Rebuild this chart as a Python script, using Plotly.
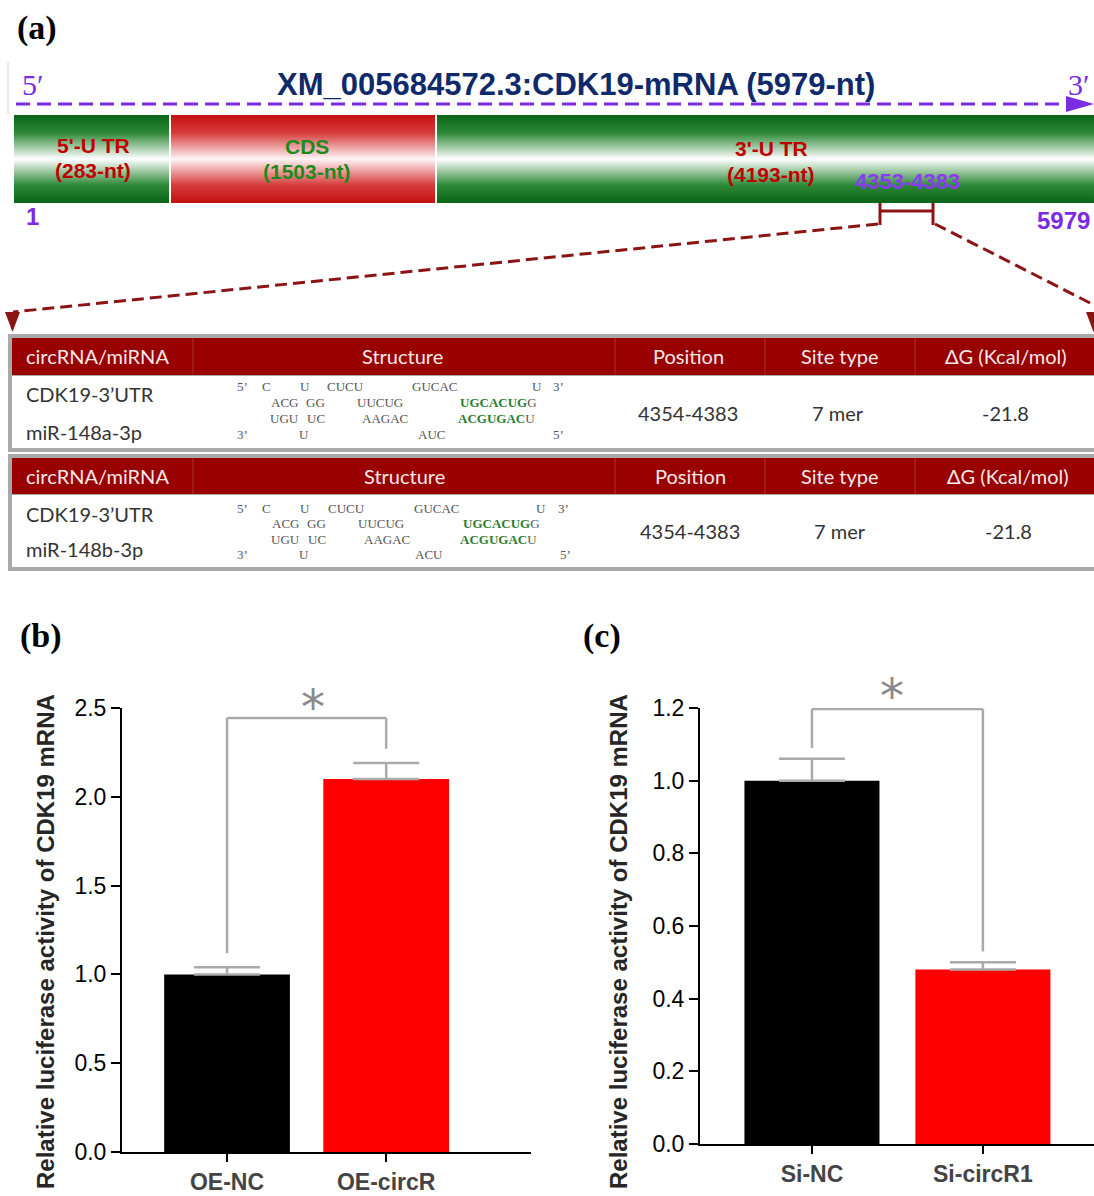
import plotly.graph_objects as go

# ------------------------------------------------------------------ data
transcript_id = "XM_005684572.3:CDK19-mRNA"
total_nt = 5979
segment_names = ["5'-U TR", "CDS", "3'-U TR"]
segment_lengths = [283, 1503, 4193]
site_range = [4353, 4383]

table_headers = ["circRNA/miRNA", "Structure", "Position", "Site type", "ΔG (Kcal/mol)"]
target_name = "CDK19-3’UTR"
mirna_names = ["miR-148a-3p", "miR-148b-3p"]
site_positions = ["4354-4383", "4354-4383"]
site_types = ["7 mer", "7 mer"]
delta_g = [-21.8, -21.8]

duplex_148a = [
    ["5’", "C", "U", "CUCU", "GUCAC", "U", "3’"],
    ["ACG", "GG", "UUCUG", "UGCACUGG"],
    ["UGU", "UC", "AAGAC", "ACGUGACU"],
    ["3’", "U", "AUC", "5’"],
]
duplex_148b = [
    ["5’", "C", "U", "CUCU", "GUCAC", "U", "3’"],
    ["ACG", "GG", "UUCUG", "UGCACUGG"],
    ["UGU", "UC", "AAGAC", "ACGUGACU"],
    ["3’", "U", "ACU", "5’"],
]

b_groups = ["OE-NC", "OE-circR"]
b_means = [1.0, 2.1]
b_errors = [0.04, 0.09]

c_groups = ["Si-NC", "Si-circR1"]
c_means = [1.0, 0.48]
c_errors = [0.06, 0.02]

y_title = "Relative luciferase activity of CDK19 mRNA"

# ------------------------------------------------------------------ style / layout
W, H = 1094, 1196
PURPLE = "#7b2be2"
NAVY = "#0f2a6b"
DKRED = "#8b1414"
HEAD_RED = "#990000"
GREEN_TXT = "#1e8a1e"
RED_TXT = "#c00000"
GREY = "#aaaaaa"
SANS = "Arial, Liberation Sans, sans-serif"
SERIF = "Liberation Serif, Times New Roman, serif"
CAL = "Lato, Open Sans, sans-serif"

fig = go.Figure()
shapes = []
annots = []


def ann(x, y, text, size, color, family=SANS, xanchor="center", yanchor="middle", angle=0):
    annots.append(dict(x=x, y=y, xref="x3", yref="y3", text=text, showarrow=False,
                       font=dict(size=size, color=color, family=family),
                       xanchor=xanchor, yanchor=yanchor, textangle=angle))


def rect(x0, y0, x1, y1, fill, layer="below"):
    shapes.append(dict(type="rect", xref="x3", yref="y3", x0=x0, y0=y0, x1=x1, y1=y1,
                       fillcolor=fill, line=dict(width=0), layer=layer))


def seg(x0, y0, x1, y1, color, width=2, dash="solid", layer="above", xref="x3", yref="y3"):
    shapes.append(dict(type="line", xref=xref, yref=yref, x0=x0, y0=y0, x1=x1, y1=y1,
                       line=dict(color=color, width=width, dash=dash), layer=layer))


def tri(path, color):
    shapes.append(dict(type="path", xref="x3", yref="y3", path=path, fillcolor=color,
                       line=dict(width=0), layer="above"))


# ---------------- panel (a): gene schematic
ann(15, 28, "<b>(a)</b>", 34, "black", SERIF, xanchor="left")
seg(8, 62, 8, 114, "#d0d0d0", 1)
ann(33, 84, "5′", 30, PURPLE, SERIF)
ann(1079, 84, "3′", 30, PURPLE, SERIF)
ann(576, 84, "<b>%s (%d-nt)</b>" % (transcript_id, total_nt), 31, NAVY)
seg(16, 104, 1070, 104, PURPLE, 3, dash="14px,7px")
tri("M 1066 96 L 1094 104 L 1066 112 Z", PURPLE)

seg_px = [(14, 169), (171, 435), (437, 1100)]
GREEN_CS = [[0, "#0a6416"], [0.2, "#2c8836"], [0.5, "#ffffff"], [0.8, "#2c8836"], [1, "#0a6416"]]
RED_CS = [[0, "#c41010"], [0.2, "#d63a3a"], [0.5, "#fff4f4"], [0.8, "#d63a3a"], [1, "#c41010"]]
seg_scales = [GREEN_CS, RED_CS, GREEN_CS]
BAR_T, BAR_B = 115, 203
for (x0, x1), cs in zip(seg_px, seg_scales):
    fig.add_trace(go.Scatter(x=[x0, x1, x1, x0, x0], y=[BAR_T, BAR_T, BAR_B, BAR_B, BAR_T],
                             fill="toself", mode="lines", line=dict(width=0),
                             fillgradient=dict(type="vertical", colorscale=cs),
                             xaxis="x3", yaxis="y3", hoverinfo="skip", showlegend=False))

seg_label_pos = [(93, 145, 170), (307, 146, 171), (771, 148, 174)]
seg_colors = [RED_TXT, GREEN_TXT, RED_TXT]
for name, n, (cx, y1, y2), col in zip(segment_names, segment_lengths, seg_label_pos, seg_colors):
    ann(cx, y1, "<b>%s</b>" % name, 21, col)
    ann(cx, y2, "<b>(%d-nt)</b>" % n, 21, col)

ann(907, 181, "<b>%d-%d</b>" % tuple(site_range), 22, "#8a3cf0")
ann(32, 216, "<b>1</b>", 24, PURPLE)
ann(1063, 220, "<b>%d</b>" % total_nt, 24, PURPLE)

# site bracket and zoom lines
seg(880, 211, 933, 211, DKRED, 3)
seg(880, 203, 880, 225, DKRED, 3)
seg(933, 203, 933, 225, DKRED, 3)
seg(878, 224, 13, 312, DKRED, 3, dash="12px,6px")
seg(935, 224, 1094, 305, DKRED, 3, dash="12px,6px")
tri("M 5 312 L 20 312 L 12.5 332 Z", DKRED)
tri("M 1086 312 L 1101 312 L 1093.5 332 Z", DKRED)

# ---------------- tables
tables = [
    dict(top=334, head=(338, 375), body=(376, 448), bottom=452, head_y=356, val_y=413,
         row_y=(394, 432), line_y=[386, 402, 418, 434],
         head_x=[24, 402, 688, 840, 1006], val_x=[688, 838, 1005],
         tok_x=[[242, 266, 305, 345, 435, 537, 558], [284, 315, 380, 498],
                [284, 316, 385, 496], [242, 304, 431, 558]],
         duplex=duplex_148a),
    dict(top=454, head=(458, 494), body=(495, 567), bottom=571, head_y=476, val_y=531,
         row_y=(514, 549), line_y=[508, 523, 539, 554],
         head_x=[24, 404, 690, 840, 1008], val_x=[690, 840, 1008],
         tok_x=[[242, 266, 305, 346, 437, 541, 563], [285, 316, 381, 501],
                [285, 317, 387, 498], [242, 304, 429, 565]],
         duplex=duplex_148b),
]
for i, t in enumerate(tables):
    rect(8, t["top"], 1100, t["bottom"], "#a9a9a9")
    rect(12, t["head"][0], 1100, t["head"][1], HEAD_RED)
    rect(12, t["body"][0], 1100, t["body"][1], "#ffffff")
    for sx in [193, 615, 765, 915]:
        seg(sx, t["head"][0], sx, t["head"][1], "#a83030", 1, layer="below")
    for j, (hdr, hx) in enumerate(zip(table_headers, t["head_x"])):
        ann(hx, t["head_y"], hdr, 20, "#f6e9e9", CAL, xanchor="left" if j == 0 else "center")
    ann(24, t["row_y"][0], target_name, 20, "#333333", CAL, xanchor="left")
    ann(24, t["row_y"][1], mirna_names[i], 20, "#333333", CAL, xanchor="left")
    ann(t["val_x"][0], t["val_y"], site_positions[i], 20, "#333333", CAL)
    ann(t["val_x"][1], t["val_y"], site_types[i], 20, "#333333", CAL)
    ann(t["val_x"][2], t["val_y"], "%.1f" % delta_g[i], 20, "#333333", CAL)
    for li, (toks, xs) in enumerate(zip(t["duplex"], t["tok_x"])):
        for tok, tx in zip(toks, xs):
            if len(tok) == 8:
                txt = "<b><span style='color:#2e7d32'>%s</span></b>%s" % (tok[:7], tok[7])
            else:
                txt = tok
            ann(tx, t["line_y"][li], txt, 13, "#555555", SERIF)

# ---------------- panels (b) and (c)
ann(18, 636, "<b>(b)</b>", 34, "black", SERIF, xanchor="left")
ann(581, 636, "<b>(c)</b>", 34, "black", SERIF, xanchor="left")
ann(45, 942, "<b>%s</b>" % y_title, 24, "#262626", angle=-90)
ann(618, 942, "<b>%s</b>" % y_title, 24, "#262626", angle=-90)
ann(313, 707, "*", 48, "#8a8a8a", "DejaVu Sans")
ann(892, 696, "*", 48, "#8a8a8a", "DejaVu Sans")

bar_colors = ["#000000", "#ff0000"]
for xa, ya, groups, means, errs in [("x", "y", b_groups, b_means, b_errors),
                                     ("x2", "y2", c_groups, c_means, c_errors)]:
    fig.add_trace(go.Bar(x=groups, y=means, width=0.79, xaxis=xa, yaxis=ya,
                         marker=dict(color=bar_colors, line=dict(width=0)),
                         error_y=dict(type="data", symmetric=False, array=errs,
                                      arrayminus=[0] * len(errs), color=GREY,
                                      thickness=2.5, width=33),
                         showlegend=False, hoverinfo="skip"))

# significance brackets
for xr, yr, left_end, right_end, top in [("x", "y", 1.12, 2.27, 2.444),
                                         ("x2", "y2", 1.09, 0.53, 1.197)]:
    seg(0, left_end, 0, top, GREY, 2.5, xref=xr, yref=yr)
    seg(0, top, 1, top, GREY, 2.5, xref=xr, yref=yr)
    seg(1, top, 1, right_end, GREY, 2.5, xref=xr, yref=yr)

axis_common = dict(showline=True, linecolor="black", linewidth=2, ticks="outside",
                   tickcolor="black", tickwidth=2, showgrid=False, zeroline=False,
                   fixedrange=True, automargin=False)

fig.update_layout(
    width=W, height=H, margin=dict(l=0, r=0, t=0, b=0, pad=0, autoexpand=False),
    paper_bgcolor="white", plot_bgcolor="rgba(0,0,0,0)", showlegend=False,
    xaxis=dict(domain=[122 / W, 531 / W], anchor="y", type="category",
               range=[-0.66, 1.91], tickvals=b_groups,
               ticktext=["<b>%s</b>" % g for g in b_groups], ticklen=8,
               tickfont=dict(size=23, color="#444444", family=SANS), **axis_common),
    yaxis=dict(domain=[1 - 1152 / H, 1 - 708 / H], anchor="x", range=[0, 2.5],
               dtick=0.5, tickformat=".1f", ticklen=9,
               tickfont=dict(size=23, color="black", family=SANS), **axis_common),
    xaxis2=dict(domain=[700 / W, 1.0], anchor="y2", type="category",
                range=[-0.655, 1.65], tickvals=c_groups,
                ticktext=["<b>%s</b>" % g for g in c_groups], ticklen=8,
                tickfont=dict(size=23, color="#444444", family=SANS), **axis_common),
    yaxis2=dict(domain=[1 - 1144 / H, 1 - 708 / H], anchor="x2", range=[0, 1.2],
                dtick=0.2, tickformat=".1f", ticklen=9,
                tickfont=dict(size=23, color="black", family=SANS), **axis_common),
    xaxis3=dict(domain=[0, 1], anchor="y3", range=[0, W], visible=False, fixedrange=True),
    yaxis3=dict(domain=[0, 1], anchor="x3", range=[H, 0], visible=False, fixedrange=True),
    shapes=shapes, annotations=annots,
)

fig.write_html("out.html")
